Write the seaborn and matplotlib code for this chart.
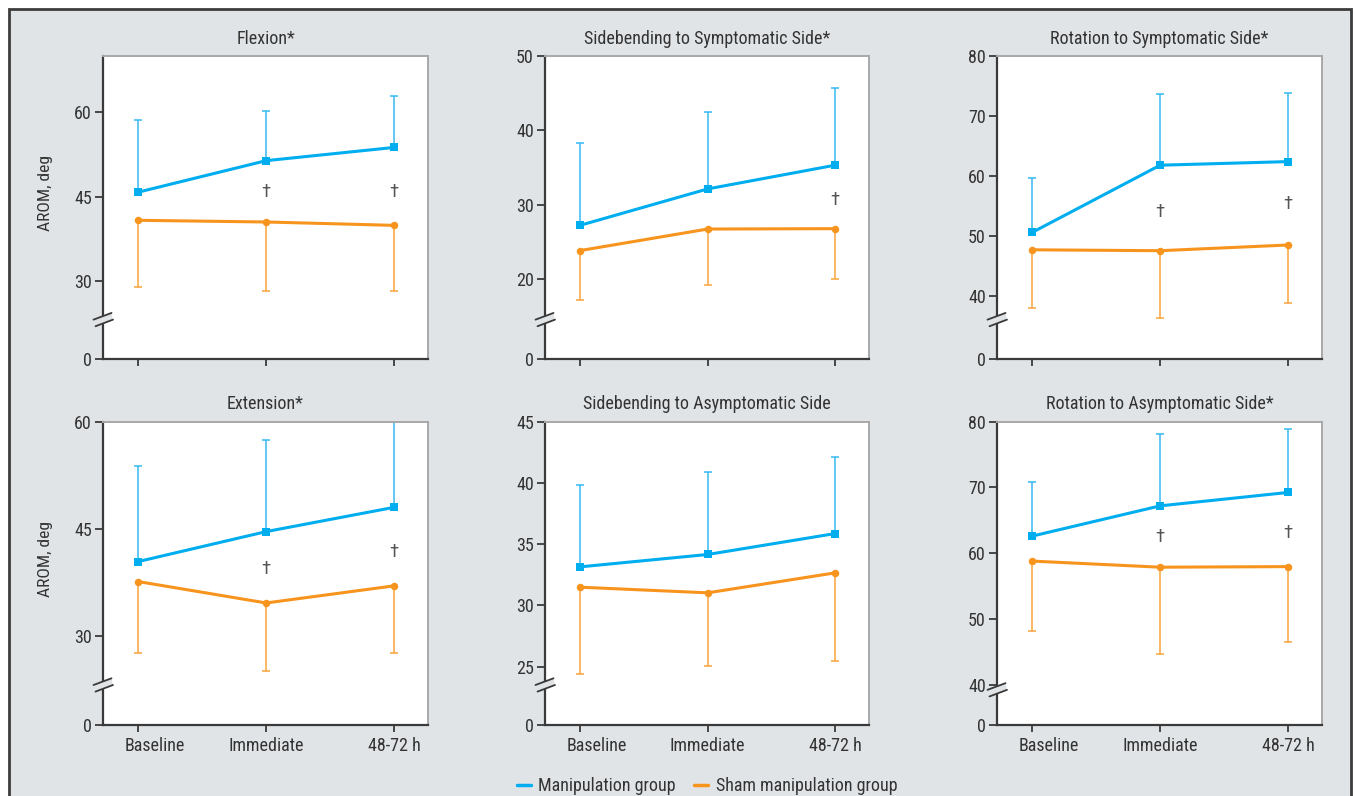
import numpy as np
import pandas as pd
import matplotlib
matplotlib.use("Agg")
import matplotlib.pyplot as plt
import seaborn as sns
from matplotlib import font_manager
from matplotlib.patches import Rectangle, Polygon
from matplotlib.lines import Line2D
from matplotlib.transforms import ScaledTranslation

# ---------------- data ----------------
timepoints = ["Baseline", "Immediate", "48-72 h"]
groups = ["Manipulation group", "Sham manipulation group"]

titles = ["Flexion*", "Sidebending to Symptomatic Side*", "Rotation to Symptomatic Side*",
          "Extension*", "Sidebending to Asymptomatic Side", "Rotation to Asymptomatic Side*"]

flex_manip = [45.8, 51.4, 53.75]
flex_manip_hi = [58.6, 60.2, 62.9]
flex_sham = [40.8, 40.5, 39.9]
flex_sham_lo = [28.9, 28.2, 28.3]

sbs_manip = [27.2, 32.1, 35.3]
sbs_manip_hi = [38.3, 42.5, 45.7]
sbs_sham = [23.8, 26.7, 26.75]
sbs_sham_lo = [17.1, 19.1, 19.95]

rots_manip = [50.6, 61.8, 62.4]
rots_manip_hi = [59.6, 73.7, 73.9]
rots_sham = [47.7, 47.55, 48.5]
rots_sham_lo = [38.0, 36.3, 38.8]

ext_manip = [40.4, 44.6, 48.0]
ext_manip_hi = [53.8, 57.4, 60.0]
ext_sham = [37.6, 34.6, 37.0]
ext_sham_lo = [27.6, 25.1, 27.6]

sba_manip = [33.15, 34.16, 35.87]
sba_manip_hi = [39.84, 40.9, 42.15]
sba_sham = [31.49, 31.03, 32.66]
sba_sham_lo = [24.4, 25.08, 25.47]

rota_manip = [62.6, 67.2, 69.24]
rota_manip_hi = [70.9, 78.2, 78.9]
rota_sham = [58.8, 57.87, 57.96]
rota_sham_lo = [48.2, 44.7, 46.55]

# significance daggers (time index, y position)
flex_dag_x, flex_dag_y = [1, 2], [45.8, 45.8]
sbs_dag_x, sbs_dag_y = [2], [30.6]
rots_dag_x, rots_dag_y = [1, 2], [54.0, 55.4]
ext_dag_x, ext_dag_y = [1, 2], [39.4, 41.8]
sba_dag_x, sba_dag_y = [], []
rota_dag_x, rota_dag_y = [1, 2], [62.4, 63.1]

# y axes: tick values, lower (broken, labelled "0") and upper limits
flex_yticks, flex_ylim = [30, 45, 60], (16.15, 70)
sbs_yticks, sbs_ylim = [20, 30, 40, 50], (9.2, 50)
rots_yticks, rots_ylim = [40, 50, 60, 70, 80], (29.5, 80)
ext_yticks, ext_ylim = [30, 45, 60], (17.5, 60)
sba_yticks, sba_ylim = [25, 30, 35, 40, 45], (20.24, 45)
rota_yticks, rota_ylim = [40, 50, 60, 70, 80], (33.87, 80)

panels = [
    (flex_manip, flex_manip_hi, flex_sham, flex_sham_lo, flex_dag_x, flex_dag_y, flex_yticks, flex_ylim),
    (sbs_manip, sbs_manip_hi, sbs_sham, sbs_sham_lo, sbs_dag_x, sbs_dag_y, sbs_yticks, sbs_ylim),
    (rots_manip, rots_manip_hi, rots_sham, rots_sham_lo, rots_dag_x, rots_dag_y, rots_yticks, rots_ylim),
    (ext_manip, ext_manip_hi, ext_sham, ext_sham_lo, ext_dag_x, ext_dag_y, ext_yticks, ext_ylim),
    (sba_manip, sba_manip_hi, sba_sham, sba_sham_lo, sba_dag_x, sba_dag_y, sba_yticks, sba_ylim),
    (rota_manip, rota_manip_hi, rota_sham, rota_sham_lo, rota_dag_x, rota_dag_y, rota_yticks, rota_ylim),
]

# ---------------- style ----------------
sns.set_theme(style="white")
avail = {f.name for f in font_manager.fontManager.ttflist}
fam = "DejaVu Sans"
for cand in ["Liberation Sans Narrow", "Roboto Condensed", "Liberation Sans"]:
    if cand in avail:
        fam = cand
        break
plt.rcParams["font.family"] = [fam, "DejaVu Sans"]

BLUE = "#00aeef"
BLUE_E = "#35b9f0"
ORANGE = "#f7941d"
ORANGE_E = "#f9a43a"
BG = "#e1e4e7"
TXT = "#333333"
FS = 13

W, H = 1355, 796
fig = plt.figure(figsize=(W / 100, H / 100), dpi=100, facecolor="white")
frame = Rectangle((8.5 / W, -0.05), (1351 - 8.5) / W, 1.05 - 8.5 / H,
                  transform=fig.transFigure, facecolor=BG, edgecolor="#3c3c3c",
                  linewidth=2, zorder=-10)
fig.patches.append(frame)

col_left = [103, 545, 997]
col_right = [428, 869, 1322]
row_top = [56, 421.7]
row_bot = [359, 725]
break_frac = [0.119, 0.119, 0.119, 0.121, 0.121, 0.105]

x = np.arange(len(timepoints))

for i, (m, mhi, s, slo, dx, dy, yt, yl) in enumerate(panels):
    r, c = divmod(i, 3)
    l, rr = col_left[c], col_right[c]
    t, b = row_top[r], row_bot[r]
    ax = fig.add_axes([l / W, 1 - b / H, (rr - l) / W, (b - t) / H], zorder=1)
    ax.set_facecolor("white")

    df = pd.DataFrame({
        "t": np.concatenate([x, x]),
        "value": np.concatenate([m, s]),
        "group": [groups[0]] * 3 + [groups[1]] * 3,
    })

    # error bars (one-sided)
    m_arr, s_arr = np.array(m), np.array(s)
    eb = ax.errorbar(x, m_arr, yerr=[np.zeros(3), np.array(mhi) - m_arr], fmt="none",
                     ecolor=BLUE_E, elinewidth=1.1, capsize=3.2, capthick=1.1, zorder=2)
    eb[1][0].set_visible(False)
    eb = ax.errorbar(x, s_arr, yerr=[s_arr - np.array(slo), np.zeros(3)], fmt="none",
                     ecolor=ORANGE_E, elinewidth=1.1, capsize=3.2, capthick=1.1, zorder=2)
    eb[1][1].set_visible(False)

    sns.lineplot(data=df, x="t", y="value", hue="group", style="group",
                 palette={groups[0]: BLUE, groups[1]: ORANGE},
                 markers={groups[0]: "s", groups[1]: "o"}, dashes=False,
                 markersize=5.4, markeredgewidth=0, linewidth=2.2,
                 legend=False, ax=ax, zorder=3)

    for xx, yy in zip(dx, dy):
        ax.text(xx, yy, "\u2020", ha="center", va="center", fontsize=13.5, color="#555555")

    ax.set_xlim(-0.275, 2.265)
    ax.set_ylim(*yl)
    ax.set_yticks([yl[0]] + yt)
    ax.set_yticklabels(["0"] + [str(v) for v in yt])
    ax.set_xticks(x)
    ax.set_xlabel("")
    ax.set_ylabel("")
    ax.tick_params(axis="y", length=6, width=1.3, color="#3a3a3a", pad=2,
                   labelsize=FS, labelcolor=TXT, left=True)
    ax.tick_params(axis="x", length=5, width=1.3, color="#3a3a3a", pad=3.5,
                   labelsize=FS, labelcolor=TXT, bottom=True)
    if r == 1:
        ax.set_xticklabels(timepoints)
        first = ax.xaxis.get_major_ticks()[0].label1
        first.set_transform(first.get_transform() + ScaledTranslation(0.17, 0, fig.dpi_scale_trans))
    else:
        ax.set_xticklabels([])
    for side in ["left", "bottom"]:
        ax.spines[side].set_color("#3a3a3a")
        ax.spines[side].set_linewidth(1.6)
    for side in ["top", "right"]:
        ax.spines[side].set_color("#a8a8a8")
        ax.spines[side].set_linewidth(1.4)
    ax.grid(False)
    ax.set_title(titles[i], fontsize=FS, color=TXT, pad=9)

    if c == 0:
        ax.text(-0.178, 0.547, "AROM, deg", transform=ax.transAxes, rotation=90,
                ha="center", va="center", fontsize=FS - 0.5, color=TXT)

    # axis break marks
    wpx, hpx = rr - l, b - t
    yb = break_frac[i]
    fx = lambda px: px / wpx
    fy = lambda py: yb + py / hpx
    p1a, p1b = (fx(-9.5), fy(3.3)), (fx(8.5), fy(10.0))
    p2a, p2b = (fx(-7.5), fy(-3.3)), (fx(10.0), fy(3.3))
    ax.add_patch(Polygon([p1a, p1b, p2b, p2a], closed=True, transform=ax.transAxes,
                         facecolor=BG, edgecolor="none", clip_on=False, zorder=10))
    for pa, pb in [(p1a, p1b), (p2a, p2b)]:
        ax.add_line(Line2D([pa[0], pb[0]], [pa[1], pb[1]], transform=ax.transAxes,
                           color="#3a3a3a", linewidth=1.3, clip_on=False, zorder=11))

handles = [Line2D([0], [0], color=BLUE, lw=2.5), Line2D([0], [0], color=ORANGE, lw=2.5)]
leg = fig.legend(handles, groups, loc="center", bbox_to_anchor=(707 / W, 1 - 786 / H),
                 ncol=2, frameon=False, handlelength=0.8, handletextpad=0.4,
                 columnspacing=1.0, fontsize=FS)
for tx in leg.get_texts():
    tx.set_color(TXT)

fig.savefig("out.png", dpi=100, facecolor="white")
